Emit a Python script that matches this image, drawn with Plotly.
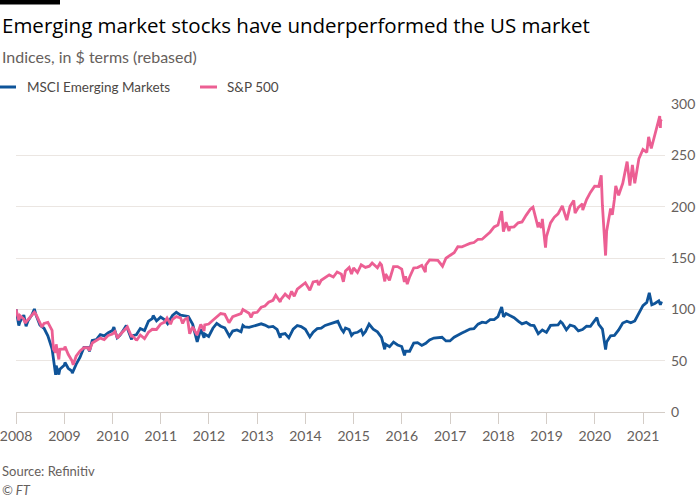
import plotly.graph_objects as go

# ---------------- data ----------------
sp_dates = [
    "2008-01-01", "2008-01-22", "2008-01-31", "2008-02-29", "2008-03-10", "2008-03-31", "2008-04-30", "2008-05-19",
    "2008-05-30", "2008-06-30", "2008-07-15", "2008-07-31", "2008-08-29", "2008-09-30", "2008-10-10", "2008-10-27",
    "2008-10-31", "2008-11-20", "2008-11-28", "2008-12-31", "2009-01-06", "2009-01-30", "2009-02-27", "2009-03-09",
    "2009-03-31", "2009-04-30", "2009-05-29", "2009-06-30", "2009-07-10", "2009-07-31", "2009-08-31", "2009-09-30",
    "2009-10-30", "2009-11-30", "2009-12-31", "2010-01-19", "2010-02-08", "2010-02-26", "2010-03-31", "2010-04-23",
    "2010-05-25", "2010-05-31", "2010-06-30", "2010-07-02", "2010-07-30", "2010-08-27", "2010-08-31", "2010-09-30",
    "2010-10-29", "2010-11-30", "2010-12-31", "2011-01-31", "2011-02-18", "2011-03-16", "2011-03-31", "2011-04-29",
    "2011-05-31", "2011-06-16", "2011-06-30", "2011-07-22", "2011-08-08", "2011-08-31", "2011-09-22", "2011-10-03",
    "2011-10-31", "2011-11-25", "2011-11-30", "2011-12-30", "2012-01-31", "2012-02-29", "2012-03-30", "2012-04-30",
    "2012-06-01", "2012-06-29", "2012-07-31", "2012-08-31", "2012-09-14", "2012-10-31", "2012-11-15", "2012-11-30",
    "2012-12-31", "2013-01-31", "2013-02-28", "2013-03-28", "2013-04-30", "2013-05-21", "2013-06-24", "2013-06-28",
    "2013-07-31", "2013-08-30", "2013-09-18", "2013-09-30", "2013-10-08", "2013-10-31", "2013-11-29", "2013-12-31",
    "2014-02-03", "2014-02-28", "2014-03-31", "2014-04-11", "2014-04-30", "2014-05-30", "2014-06-30", "2014-07-31",
    "2014-08-29", "2014-09-30", "2014-10-15", "2014-10-31", "2014-11-28", "2014-12-16", "2014-12-31", "2015-01-30",
    "2015-02-27", "2015-03-31", "2015-04-30", "2015-05-21", "2015-06-30", "2015-07-20", "2015-07-31", "2015-08-25",
    "2015-08-31", "2015-09-29", "2015-10-30", "2015-11-30", "2015-12-31", "2016-01-20", "2016-01-29", "2016-02-11",
    "2016-02-29", "2016-03-31", "2016-04-29", "2016-05-31", "2016-06-27", "2016-06-30", "2016-07-29", "2016-08-31",
    "2016-09-30", "2016-11-04", "2016-11-30", "2016-12-30", "2017-01-31", "2017-02-28", "2017-03-31", "2017-04-28",
    "2017-05-31", "2017-06-30", "2017-07-31", "2017-08-31", "2017-09-29", "2017-10-31", "2017-11-30", "2017-12-29",
    "2018-01-26", "2018-02-08", "2018-02-28", "2018-03-23", "2018-03-29", "2018-04-30", "2018-05-31", "2018-06-29",
    "2018-07-31", "2018-08-31", "2018-09-20", "2018-10-29", "2018-10-31", "2018-11-23", "2018-11-30", "2018-12-24",
    "2018-12-31", "2019-01-31", "2019-02-28", "2019-03-29", "2019-04-30", "2019-06-03", "2019-06-28", "2019-07-26",
    "2019-08-05", "2019-08-30", "2019-09-30", "2019-10-02", "2019-10-31", "2019-11-29", "2019-12-31", "2020-01-31",
    "2020-02-19", "2020-02-28", "2020-03-23", "2020-03-31", "2020-04-30", "2020-05-13", "2020-05-29", "2020-06-08",
    "2020-06-30", "2020-07-31", "2020-09-02", "2020-09-23", "2020-10-12", "2020-10-30", "2020-11-30", "2020-12-31",
    "2021-01-29", "2021-02-12", "2021-03-04", "2021-03-31", "2021-04-29", "2021-05-07", "2021-05-12", "2021-05-14",
    "2021-05-21",
]
sp_levels = [
    1468.36, 1310.50, 1378.55, 1330.63, 1273.37, 1322.70, 1385.59, 1426.63,
    1400.38, 1280.00, 1214.91, 1267.38, 1282.83, 1166.36, 899.22, 848.92,
    968.75, 752.44, 896.24, 903.25, 934.70, 825.88, 735.09, 676.53,
    797.87, 872.81, 919.14, 919.32, 879.13, 987.48, 1020.62, 1057.08,
    1036.19, 1095.63, 1115.10, 1150.23, 1056.74, 1104.49, 1169.43, 1217.28,
    1074.03, 1089.41, 1030.71, 1022.58, 1101.60, 1064.59, 1049.33, 1141.20,
    1183.26, 1180.55, 1257.64, 1286.12, 1343.01, 1256.88, 1325.83, 1363.61,
    1345.20, 1267.64, 1320.64, 1345.02, 1119.46, 1218.89, 1129.56, 1099.23,
    1253.30, 1158.67, 1246.96, 1257.60, 1312.41, 1365.68, 1408.47, 1397.91,
    1278.04, 1362.16, 1379.32, 1406.58, 1465.77, 1412.16, 1353.33, 1416.18,
    1426.19, 1498.11, 1514.68, 1569.19, 1597.57, 1669.16, 1573.09, 1606.28,
    1685.73, 1632.97, 1725.52, 1681.55, 1655.45, 1756.54, 1805.81, 1848.36,
    1741.89, 1859.45, 1872.34, 1815.69, 1883.95, 1923.57, 1960.23, 1930.67,
    2003.37, 1972.29, 1862.49, 2018.05, 2067.56, 1972.74, 2058.90, 1994.99,
    2104.50, 2067.89, 2085.51, 2130.82, 2063.11, 2128.28, 2103.84, 1867.61,
    1972.18, 1884.09, 2079.36, 2080.41, 2043.94, 1859.33, 1940.24, 1829.08,
    1932.23, 2059.74, 2065.30, 2096.95, 2000.54, 2098.86, 2173.60, 2170.95,
    2168.27, 2085.18, 2198.81, 2238.83, 2278.87, 2363.64, 2362.72, 2384.20,
    2411.80, 2423.41, 2470.30, 2471.65, 2519.36, 2575.26, 2647.58, 2673.61,
    2872.87, 2581.00, 2713.83, 2588.26, 2640.87, 2648.05, 2705.27, 2718.37,
    2816.29, 2901.52, 2930.75, 2641.25, 2711.74, 2632.56, 2760.17, 2351.10,
    2506.85, 2704.10, 2784.49, 2834.40, 2945.83, 2744.45, 2941.76, 3025.86,
    2844.74, 2926.46, 2976.74, 2887.61, 3037.56, 3140.98, 3230.78, 3225.52,
    3386.15, 2954.22, 2237.40, 2584.59, 2912.43, 2820.00, 3044.31, 3232.39,
    3100.29, 3271.12, 3580.84, 3236.92, 3534.22, 3269.96, 3621.63, 3756.07,
    3714.24, 3934.83, 3768.47, 3972.89, 4211.47, 4232.60, 4063.04, 4173.85,
    4155.86,
]

em_dates = [
    "2008-01-01", "2008-01-22", "2008-01-31", "2008-02-29", "2008-03-17", "2008-03-31", "2008-04-30", "2008-05-19",
    "2008-05-30", "2008-06-30", "2008-07-31", "2008-08-29", "2008-09-30", "2008-10-27", "2008-10-31", "2008-11-20",
    "2008-11-28", "2008-12-31", "2009-01-06", "2009-01-30", "2009-02-27", "2009-03-02", "2009-03-31", "2009-04-30",
    "2009-05-29", "2009-06-30", "2009-07-10", "2009-07-31", "2009-08-31", "2009-09-30", "2009-10-30", "2009-11-30",
    "2009-12-31", "2010-01-11", "2010-02-05", "2010-02-26", "2010-03-31", "2010-04-15", "2010-05-25", "2010-05-31",
    "2010-06-30", "2010-07-30", "2010-08-31", "2010-09-30", "2010-10-29", "2010-11-05", "2010-11-30", "2010-12-31",
    "2011-01-31", "2011-02-22", "2011-03-31", "2011-04-29", "2011-05-31", "2011-06-30", "2011-07-29", "2011-08-31",
    "2011-09-30", "2011-10-04", "2011-10-31", "2011-11-25", "2011-11-30", "2011-12-30", "2012-01-31", "2012-02-29",
    "2012-03-30", "2012-04-30", "2012-06-04", "2012-06-29", "2012-07-31", "2012-08-31", "2012-09-14", "2012-09-28",
    "2012-10-31", "2012-11-30", "2012-12-31", "2013-01-31", "2013-02-28", "2013-03-28", "2013-04-30", "2013-05-31",
    "2013-06-24", "2013-06-28", "2013-07-31", "2013-08-28", "2013-09-30", "2013-10-31", "2013-11-29", "2013-12-31",
    "2014-02-03", "2014-02-28", "2014-03-31", "2014-04-30", "2014-05-30", "2014-06-30", "2014-07-31", "2014-09-03",
    "2014-09-30", "2014-10-16", "2014-10-31", "2014-11-28", "2014-12-16", "2014-12-31", "2015-01-30", "2015-02-27",
    "2015-03-13", "2015-03-31", "2015-04-28", "2015-05-29", "2015-06-30", "2015-07-31", "2015-08-24", "2015-08-31",
    "2015-09-30", "2015-10-30", "2015-11-30", "2015-12-31", "2016-01-21", "2016-01-29", "2016-02-29", "2016-03-31",
    "2016-04-29", "2016-05-31", "2016-06-30", "2016-07-29", "2016-08-31", "2016-09-30", "2016-10-31", "2016-11-30",
    "2016-12-30", "2017-01-31", "2017-02-28", "2017-03-31", "2017-04-28", "2017-05-31", "2017-06-30", "2017-07-31",
    "2017-08-31", "2017-09-29", "2017-10-31", "2017-11-30", "2017-12-29", "2018-01-26", "2018-02-09", "2018-02-28",
    "2018-03-29", "2018-04-30", "2018-05-31", "2018-06-29", "2018-07-31", "2018-08-31", "2018-09-28", "2018-10-30",
    "2018-11-30", "2018-12-31", "2019-01-31", "2019-02-28", "2019-03-29", "2019-04-17", "2019-04-30", "2019-05-31",
    "2019-06-28", "2019-07-31", "2019-08-30", "2019-09-30", "2019-10-31", "2019-11-29", "2019-12-31", "2020-01-17",
    "2020-01-31", "2020-02-28", "2020-03-23", "2020-03-31", "2020-04-30", "2020-05-29", "2020-06-30", "2020-07-31",
    "2020-08-31", "2020-09-30", "2020-10-30", "2020-11-30", "2020-12-31", "2021-01-29", "2021-02-17", "2021-03-08",
    "2021-03-31", "2021-04-30", "2021-05-12", "2021-05-21",
]
em_levels = [
    1245.59, 1050, 1093, 1175, 1040, 1104, 1178, 1250,
    1181, 1053, 1016, 924, 767, 450, 562, 455,
    518, 567, 600, 531, 496, 470, 578, 665,
    784, 783, 735, 869, 878, 938, 923, 962,
    989, 1030, 900, 931, 1010, 1050, 880, 926,
    937, 1013, 988, 1102, 1134, 1170, 1105, 1151,
    1119, 1070, 1171, 1210, 1174, 1166, 1159, 1063,
    880, 850, 1004, 900, 946, 916, 1016, 1076,
    1041, 1021, 920, 982, 995, 973, 1050, 1032,
    1026, 1040, 1055, 1070, 1054, 1031, 1039, 1002,
    900, 940, 951, 900, 1005, 1050, 1036, 1003,
    910, 968, 1012, 1018, 1050, 1069, 1085, 1100,
    1005, 970, 1018, 1001, 930, 956, 967, 997,
    940, 974, 1067, 1005, 972, 906, 760, 821,
    792, 847, 813, 794, 688, 737, 737, 836,
    841, 808, 834, 875, 897, 903, 906, 862,
    862, 908, 936, 958, 979, 1007, 1011, 1066,
    1089, 1082, 1120, 1122, 1158, 1273, 1155, 1195,
    1170, 1144, 1103, 1069, 1087, 1055, 1048, 950,
    994, 966, 1050, 1051, 1058, 1097, 1079, 998,
    1055, 1037, 984, 1001, 1042, 1040, 1115, 1145,
    1062, 1006, 758, 848, 925, 930, 995, 1079,
    1101, 1082, 1105, 1205, 1291, 1330, 1445, 1300,
    1316, 1348, 1300, 1340,
]

series_names = ["MSCI Emerging Markets", "S&P 500"]
y_ticks = [0, 50, 100, 150, 200, 250, 300]

# rebase to 100 at the start
sp_values = [v / sp_levels[0] * 100 for v in sp_levels]
em_values = [v / em_levels[0] * 100 for v in em_levels]

# ---------------- style ----------------
BLUE = "#0f5499"
PINK = "#ec5f93"
GREY = "#66605c"
GRID = "#ebe6e2"
AXIS = "#d4cdc7"
FONT = "Lato"

W, H = 700, 500
L, R, T, B = 16, 35, 104, 88
PW, PH = W - L - R, H - T - B


def px(x):
    return (x - L) / PW


def py(y):
    return (H - B - y) / PH


fig = go.Figure()
fig.add_trace(go.Scatter(x=em_dates, y=em_values, mode="lines", name=series_names[0],
                         line=dict(color=BLUE, width=2.8), showlegend=False))
fig.add_trace(go.Scatter(x=sp_dates, y=sp_values, mode="lines", name=series_names[1],
                         line=dict(color=PINK, width=2.8), showlegend=False))

fig.update_layout(
    width=W, height=H,
    margin=dict(l=L, r=R, t=T, b=B, autoexpand=False),
    paper_bgcolor="white", plot_bgcolor="white",
    font=dict(family=FONT, color=GREY, size=14),
    xaxis=dict(
        type="date", range=["2007-12-31 18:00", "2021-06-16"], automargin=False,
        tick0="2008-01-01", dtick="M12", tickformat="%Y",
        ticks="outside", ticklen=11, tickcolor=AXIS, tickwidth=1,
        showline=True, linecolor=AXIS, linewidth=1,
        showgrid=False, zeroline=False, ticklabeloverflow="allow",
        tickfont=dict(size=14, color=GREY),
    ),
    yaxis=dict(
        range=[0, 300], tickvals=y_ticks, side="right", automargin=False,
        showgrid=True, gridcolor=GRID, gridwidth=1,
        zeroline=False, showline=False, ticks="",
        ticklabelstandoff=5, ticklabeloverflow="allow",
        tickfont=dict(size=14, color=GREY),
    ),
)

# black bar top-left
fig.add_shape(type="rect", xref="paper", yref="paper",
              x0=px(0), x1=px(60), y0=py(0), y1=py(4.5),
              fillcolor="black", line=dict(width=0), layer="above")

# title, subtitle
fig.add_annotation(text="Emerging market stocks have underperformed the US market",
                   xref="paper", yref="paper", x=px(0), y=py(25), xanchor="left", yanchor="middle",
                   showarrow=False, font=dict(size=20.5, color="#000000", family="Open Sans"))
fig.add_annotation(text="Indices, in $ terms (rebased)",
                   xref="paper", yref="paper", x=px(0), y=py(57), xanchor="left", yanchor="middle",
                   showarrow=False, font=dict(size=16, color=GREY, family=FONT))

# legend
legend_items = [(0, 16, 25, BLUE, series_names[0]), (200, 217, 225, PINK, series_names[1])]
for x0, x1, xt, col, name in legend_items:
    fig.add_shape(type="line", xref="paper", yref="paper",
                  x0=px(x0), x1=px(x1), y0=py(87), y1=py(87),
                  line=dict(color=col, width=3))
    fig.add_annotation(text=name, xref="paper", yref="paper", x=px(xt), y=py(87),
                       xanchor="left", yanchor="middle", showarrow=False,
                       font=dict(size=13.5, color="#4d4845", family=FONT))

# source
fig.add_annotation(text="Source: Refinitiv", xref="paper", yref="paper", x=px(0), y=py(471),
                   xanchor="left", yanchor="middle", showarrow=False,
                   font=dict(size=13, color=GREY, family=FONT))
fig.add_annotation(text="<i>© FT</i>", xref="paper", yref="paper", x=px(0), y=py(490),
                   xanchor="left", yanchor="middle", showarrow=False,
                   font=dict(size=13, color=GREY, family=FONT))

fig.write_html("out.html", config={"displayModeBar": False},
               post_script="document.body.style.margin='0';")
